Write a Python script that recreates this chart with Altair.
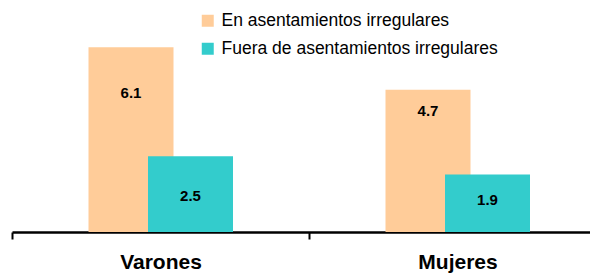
import altair as alt
import pandas as pd

categories = ["Varones", "Mujeres"]
series = ["En asentamientos irregulares", "Fuera de asentamientos irregulares"]
en_values = [6.1, 4.7]
fuera_values = [2.5, 1.9]
# vertical position of the value labels (data units)
en_label_y = [4.6, 4.0]
fuera_label_y = [1.2, 1.05]
colors = ["#FFCC99", "#33CCCC"]

rows = []
for i, c in enumerate(categories):
    rows.append({"cat": c, "serie": series[0], "value": en_values[i], "ly": en_label_y[i], "order": 0})
    rows.append({"cat": c, "serie": series[1], "value": fuera_values[i], "ly": fuera_label_y[i], "order": 1})
df = pd.DataFrame(rows)

xenc = alt.X("cat:N", sort=categories, title=None,
             scale=alt.Scale(range=[0, 594], paddingInner=0, paddingOuter=0),
             axis=alt.Axis(labelAngle=0, labelFont="Liberation Sans", labelFontWeight="bold",
                           labelFontSize=21, labelColor="black", labelPadding=12,
                           domainColor="black", domainWidth=2.5, tickColor="black",
                           tickWidth=2, tickSize=7, tickBand="extent", grid=False))
yscale = alt.Scale(domain=[0, 7.4], nice=False, zero=True)

def bars(idx, off):
    d = df[df["order"] == idx]
    b = alt.Chart(d).mark_bar(width=85, xOffset=off).encode(
        x=xenc,
        y=alt.Y("value:Q", scale=yscale, axis=None),
        color=alt.Color("serie:N", scale=alt.Scale(domain=series, range=colors),
                        legend=alt.Legend(title=None, orient="none", legendX=187, legendY=4,
                                          symbolType="square", symbolSize=144, symbolStrokeWidth=0,
                                          labelFont="Liberation Sans", labelFontSize=17.5,
                                          labelColor="black", labelOffset=5, rowPadding=9,
                                          padding=0, labelLimit=400)),
    )
    t = alt.Chart(d).mark_text(xOffset=off, font="Liberation Sans", fontWeight="bold",
                               fontSize=15, color="black", baseline="middle").encode(
        x=alt.X("cat:N", sort=categories),
        y=alt.Y("ly:Q", scale=yscale),
        text=alt.Text("value:Q", format=".1f"),
    )
    return b + t

chart = alt.layer(bars(0, -29.5), bars(1, 30)).properties(
    width=578, height=224,
    autosize=alt.AutoSizeParams(type="none"),
    padding={"left": 4, "top": 0, "right": 0, "bottom": 41},
).configure_view(stroke=None)

chart.save("out.html", embed_options={"renderer": "svg", "actions": False})
